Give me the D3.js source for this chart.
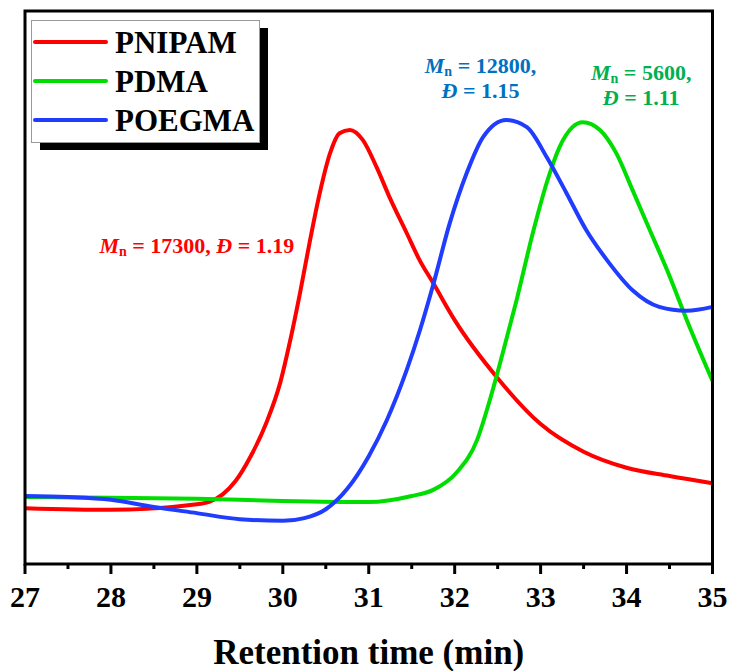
<!DOCTYPE html>
<html>
<head>
<meta charset="utf-8">
<script src="https://d3js.org/d3.v7.min.js"></script>
<style>
  body { margin: 0; background: #fff; }
</style>
</head>
<body>
<svg id="chart" width="731" height="671"></svg>
<script>
// retention time (min) and detector signal (arb. units)
var pnipamT = [27, 28, 29, 29.15, 29.3, 29.45, 29.62, 29.81, 29.97, 30.08, 30.2, 30.31, 30.43, 30.55, 30.66, 30.78, 30.93, 31.09, 31.24, 31.44, 31.59, 31.75, 32, 32.5, 33, 33.5, 34, 34.5, 35];
var pnipamY = [10.1, 9.8, 10.8, 11.3, 12.6, 15.0, 19.3, 25.6, 32.8, 40.0, 49.0, 58.0, 67.1, 74.3, 77.9, 78.5, 76.7, 71.8, 66.4, 59.9, 55.0, 50.8, 44.1, 33.6, 25.3, 20.3, 17.4, 15.9, 14.6];

var pdmaT = [27, 28, 29, 30, 31, 31.5, 31.75, 32.02, 32.26, 32.41, 32.56, 32.72, 32.91, 33.07, 33.22, 33.37, 33.49, 33.69, 33.88, 34.07, 34.27, 34.47, 34.73, 35];
var pdmaY = [12.1, 12.0, 11.8, 11.4, 11.2, 12.3, 13.4, 16.5, 22.4, 29.7, 38.2, 47.7, 59.9, 68.9, 75.4, 79.0, 79.9, 78.5, 74.3, 67.6, 60.4, 53.2, 43.0, 33.1];

var poegmaT = [27, 27.5, 28, 28.5, 29, 29.5, 30, 30.25, 30.5, 30.75, 31, 31.21, 31.44, 31.6, 31.75, 31.94, 32.14, 32.33, 32.6, 32.84, 33.07, 33.3, 33.53, 33.77, 34.07, 34.38, 34.7, 35];
var poegmaY = [12.3, 12.1, 11.6, 10.3, 9.2, 8.1, 7.8, 8.3, 9.9, 13.6, 19.5, 26.0, 35.0, 42.5, 50.5, 61.5, 70.7, 77.2, 80.3, 79.0, 73.6, 67.1, 60.4, 55.0, 49.5, 46.5, 45.8, 46.5];

var seriesNames = ["PNIPAM", "PDMA", "POEGMA"];
var seriesColors = ["#ff0000", "#00dd00", "#1f3cff"];

var xTicks = [27, 28, 29, 30, 31, 32, 33, 34, 35];
var xMinorTicks = [27.5, 28.5, 29.5, 30.5, 31.5, 32.5, 33.5, 34.5];

// annotations: anchor (time, signal)
var notes = [
  {t: 29.0, y: 56.2, mn: "17300", d: "1.19", color: "#ff0000", oneLine: true},
  {t: 32.3, y: 88.8, mn: "12800", d: "1.15", color: "#0070c0", oneLine: false},
  {t: 34.17, y: 87.5, mn: "5600", d: "1.11", color: "#00b050", oneLine: false}
];

var FONT = "Liberation Serif";
var plot = {left: 25, right: 712.5, top: 11, bottom: 564};

var x = d3.scaleLinear().domain([27, 35]).range([plot.left, plot.right]);
var y = d3.scaleLinear().domain([0, 100]).range([plot.bottom, plot.top]);

var svg = d3.select("#chart");

var series = [
  {t: pnipamT, v: pnipamY},
  {t: pdmaT, v: pdmaY},
  {t: poegmaT, v: poegmaY}
].map(function(s, i) {
  return {name: seriesNames[i], color: seriesColors[i],
    points: s.t.map(function(t, j) { return [t, s.v[j]]; })};
});

var line = d3.line()
  .x(function(d) { return x(d[0]); })
  .y(function(d) { return y(d[1]); })
  .curve(d3.curveMonotoneX);

svg.append("clipPath").attr("id", "clip")
  .append("rect")
  .attr("x", plot.left).attr("y", plot.top)
  .attr("width", plot.right - plot.left).attr("height", plot.bottom - plot.top);

svg.append("g").attr("clip-path", "url(#clip)")
  .selectAll("path")
  .data(series)
  .enter().append("path")
  .attr("d", function(d) { return line(d.points); })
  .attr("fill", "none")
  .attr("stroke", function(d) { return d.color; })
  .attr("stroke-width", 4)
  .attr("stroke-linejoin", "round");

// bottom axis, ticks pointing outward
var axis = svg.append("g")
  .attr("transform", "translate(0," + plot.bottom + ")");

axis.selectAll(".major")
  .data(xTicks)
  .enter().append("line")
  .attr("x1", function(d) { return x(d); }).attr("x2", function(d) { return x(d); })
  .attr("y1", 0).attr("y2", 10)
  .attr("stroke", "#000").attr("stroke-width", 3);

axis.selectAll(".minor")
  .data(xMinorTicks)
  .enter().append("line")
  .attr("x1", function(d) { return x(d); }).attr("x2", function(d) { return x(d); })
  .attr("y1", 0).attr("y2", 5)
  .attr("stroke", "#000").attr("stroke-width", 3);

axis.selectAll("text")
  .data(xTicks)
  .enter().append("text")
  .attr("x", function(d) { return x(d); })
  .attr("y", 43)
  .attr("text-anchor", "middle")
  .attr("font-family", FONT)
  .attr("font-size", 30)
  .attr("font-weight", "bold")
  .text(function(d) { return d; });

// frame
svg.append("rect")
  .attr("x", plot.left).attr("y", plot.top)
  .attr("width", plot.right - plot.left).attr("height", plot.bottom - plot.top)
  .attr("fill", "none").attr("stroke", "#000").attr("stroke-width", 3);

svg.append("text")
  .attr("x", (plot.left + plot.right) / 2)
  .attr("y", 664)
  .attr("text-anchor", "middle")
  .attr("font-family", FONT)
  .attr("font-size", 35)
  .attr("font-weight", "bold")
  .text("Retention time (min)");

// legend with drop shadow
var legend = svg.append("g");
legend.append("rect")
  .attr("x", 40).attr("y", 28).attr("width", 228).attr("height", 122)
  .attr("fill", "#000");
legend.append("rect")
  .attr("x", 31.5).attr("y", 20.5).attr("width", 228).attr("height", 122)
  .attr("fill", "#fff").attr("stroke", "#999").attr("stroke-width", 1);

var item = legend.selectAll(".item")
  .data(series)
  .enter().append("g")
  .attr("transform", function(d, i) { return "translate(0," + (42 + i * 39) + ")"; });
item.append("line")
  .attr("x1", 35).attr("x2", 106).attr("y1", 0).attr("y2", 0)
  .attr("stroke", function(d) { return d.color; })
  .attr("stroke-width", 4).attr("stroke-linecap", "round");
item.append("text")
  .attr("x", 115).attr("y", 11)
  .attr("font-family", FONT)
  .attr("font-size", 31).attr("font-weight", "bold")
  .text(function(d) { return d.name; });

// Mn / D annotations
function writeMn(sel) {
  sel.append("tspan").attr("font-style", "italic").text("M");
  sel.append("tspan").attr("font-size", 14).attr("dy", 3).text("n");
  sel.append("tspan").attr("dy", -3).text(" = ");
}

function noteText(g, px, py) {
  return g.append("text").attr("x", px).attr("y", py)
    .attr("text-anchor", "middle")
    .attr("font-family", FONT)
    .attr("font-size", 22)
    .attr("font-weight", "bold")
    .attr("fill", g.attr("fill"));
}

notes.forEach(function(n) {
  var g = svg.append("g").attr("fill", n.color);
  if (n.oneLine) {
    var t = noteText(g, x(n.t), y(n.y));
    writeMn(t);
    t.append("tspan").text(n.mn + ", ");
    t.append("tspan").attr("font-style", "italic").text("\u0110");
    t.append("tspan").text(" = " + n.d);
  } else {
    var t1 = noteText(g, x(n.t), y(n.y));
    writeMn(t1);
    t1.append("tspan").text(n.mn + ",");
    var t2 = noteText(g, x(n.t), y(n.y) + 25);
    t2.append("tspan").attr("font-style", "italic").text("\u0110");
    t2.append("tspan").text(" = " + n.d);
  }
});
</script>
</body>
</html>
